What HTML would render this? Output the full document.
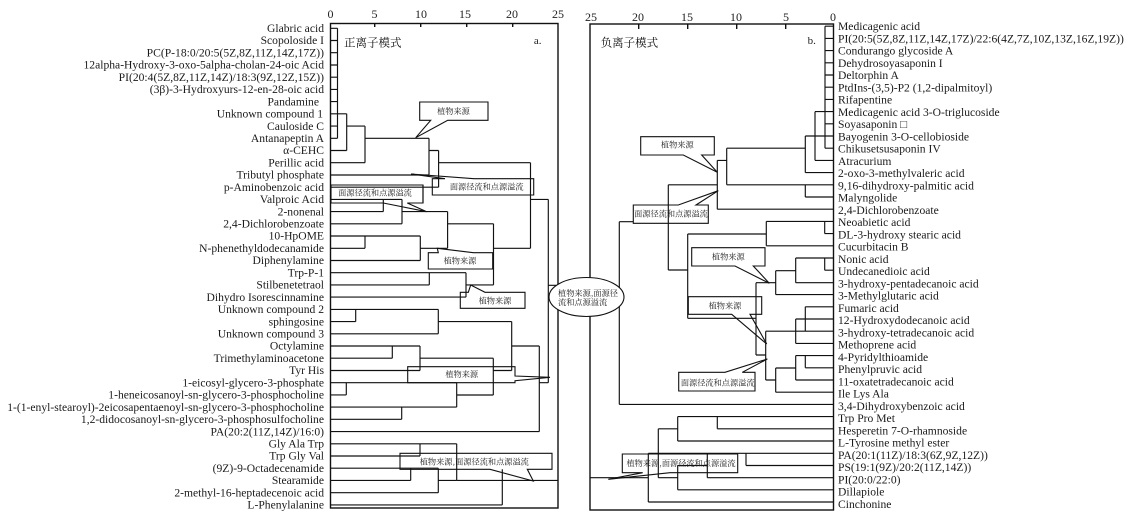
<!DOCTYPE html>
<html>
<head>
<meta charset="utf-8">
<style>
html,body{margin:0;padding:0;background:#fff;}
svg{display:block;}
.l{font:11.6px "Liberation Serif","Noto Serif CJK SC",serif;fill:#1a1a1a;}
.c{font:8.2px "Noto Serif CJK SC","Liberation Serif",serif;fill:#222;text-anchor:middle;}
.h{font:11.5px "Noto Serif CJK SC","Liberation Serif",serif;fill:#111;}
.a{font:12px "Liberation Serif",serif;fill:#222;text-anchor:middle;}
.lt text{text-anchor:end;}
</style>
</head>
<body>
<svg width="1131" height="519" viewBox="0 0 1131 519" xmlns="http://www.w3.org/2000/svg">
<rect width="1131" height="519" fill="#fff"/>
<g fill="none" stroke="#111" stroke-width="1.4">
<rect x="330.5" y="23.5" width="227.5" height="484.5"/>
<rect x="590" y="24" width="243.5" height="486"/>
<path d="M374.7 23V27M420.7 23V27M466.7 23V27M512.7 23V27M638.7 24V29M687.7 24V29M736.7 24V29M785.7 24V29"/>
</g>
<!-- callouts -->
<g fill="#fff" stroke="#111" stroke-width="1.1">
<path d="M419.7 102H488V120.3H447.7L415.7 137.7L430.7 120.3H419.7Z"/>
<path d="M432.3 178.7H445L411 174L474 178.7H533.7V195H432.3Z"/>
<path d="M331 185H423V203H407.3L426.7 211.7L383.3 203H331Z"/>
<path d="M428.3 252.7H438.3L437.3 248.3L473.3 252.7H492.7V269H428.3Z"/>
<path d="M460.3 292.3H468.3L470.7 285L485 292.3H525V308.3H460.3Z"/>
<path d="M407.7 366.7H515V376L550 377.3L515 380.7V382.7H407.7Z"/>
<path d="M400 453.3H552V469.3H527.3L533.3 481L490 469.3H400Z"/>
<path d="M640.7 136.7H714.3V155H701.7L717.3 172.3L683.3 155H640.7Z"/>
<path d="M633.3 205H678.3L718.3 190.7L696 205H708.3V223.3H633.3Z"/>
<path d="M691.7 247.7H765V266H753.3L769.3 283.3L735 266H691.7Z"/>
<path d="M688.3 296.7H761.7V314.3H750L766.7 344L731.7 314.3H688.3Z"/>
<path d="M678.7 372.3H725L767.3 359L742.3 372.3H755V391H678.7Z"/>
<path d="M622.3 454H737.7V472.7H670L608.3 479.3L642.7 472.7H622.3Z"/>
</g>
<!-- left dendrogram -->
<path fill="none" stroke="#111" stroke-width="1.15" d="
M330 28.3H337.5M330 40.5H337.5M330 52.7H337.5M330 65H337.5M330 77.2H337.5M330 89.4H337.5M330 101.6H337.5M330 126.1H337.5M330 138.3H337.5
M337.5 28.3V138.3
M330 113.8H346.7M330 150.5H346.7M346.7 113.8V150.5
M346.7 126.1H365M365 126.1V162.7M330 162.7H365
M365 138.3H429M429 138.3V175M330 175H429
M429 150.5H438.6M438.6 150.5V187.2M330 187.2H438.6
M438.6 162.7H530.5M530.5 162.7V248.3
M423 185V203
M330 199.4H402M402 199.4V223.8M330 223.8H402
M330 211.6H383.3M383.3 199.4V211.6
M402 211.6H447.6M447.6 211.6V248.3
M447.6 223.8H493.5M493.5 223.8V284.9
M493.5 248.3H530.5
M420.3 248.3H447.6M420.3 236V260.5
M330 236H420.3M330 248.3H365M365 236V248.3M330 260.5H420.3
M330 272.7H466M330 284.9H429.3M429.3 272.7V284.9M466 272.7V297.1M330 297.1H466M466 284.9H493.5
M330 309.4H438.3M330 321.6H355.7M355.7 309.4V321.6M438.3 309.4V333.8M330 333.8H438.3
M438.3 321.6H511.7M511.7 321.6V370.5
M330 346H420M330 358.2H392.3M392.3 346V358.2M420 346V370.5M330 370.5H420
M420 358.2H493.3M493.3 358.2V395M493.3 370.5H511.7
M456.7 395H493.3M456.7 382.7V407.1
M330 382.7H456.7M330 394.9H346.3M346.3 382.7V394.9
M330 407.1H456.7M330 419.3H401.7M401.7 407.1V419.3
M330 431.6H539.3M539.3 346V431.6M511.7 346H539.3
M530.5 199.4H548.3M548.3 199.4V382.7M539.3 382.7H548.3M548.3 285.3H556
M330 443.8H456.7M456.7 443.8V480.4M330 456H420M420 443.8V456
M330 468.2H438.3M330 480.4H410.7M410.7 468.2V480.4M438.3 468.2V492.7M330 492.7H438.3
M438.3 480.4H456.7M456.7 480.4H558
M502.3 469.3V504.9M330 504.9H502.3
"/>
<!-- right dendrogram -->
<path fill="none" stroke="#111" stroke-width="1.15" d="
M825 26.2H833M825 38.4H833M825 50.6H833M825 62.8H833M825 75H833M825 87.2H833M825 99.4H833M825 123.8H833M825 136H833M825 148.2H833
M825 26.2V148.2
M815 111.6H833M815 111.6V160.4M815 160.4H833
M805.3 136H825M805.3 136V172.6M805.3 172.6H833
M726.7 148.2H805.3M726.7 148.2V184.8M726.7 184.8H833
M717.3 160.4H726.7M717.3 160.4V209.2M717.3 209.2H833
M805.3 184.8V197M805.3 197H833
M668.3 184.8H717.3M668.3 184.8V270M668.3 270H687.7
M687.7 234H766.3M687.7 234V318.3
M766.3 221.4V245.8M766.3 221.4H833M766.3 245.8H833
M824.7 221.4V233.6M824.7 233.6H833
M687.7 318.3H756M756 282.7V355
M756 282.7H775.7M775.7 270.7V294.6M775.7 294.6H833
M775.7 270.7H795.7M795.7 258V282.7M795.7 282.7H833
M795.7 258H824.7M824.7 258V270.2M824.7 258H833M824.7 270.2H833
M805.3 306.8H833M805.3 306.8V331.2M805.3 331.2H833
M795.7 319H833M795.7 319V343.4M795.7 343.4H833
M765.7 331.2H805.3M765.7 331.2V380
M765.7 380H775.7M775.7 368V392.2M775.7 392.2H833
M775.7 368H795.7M795.7 355.6V380M795.7 380H833M795.7 355.6H833
M805.3 355.6V367.8M805.3 367.8H833
M756 355H765.7
M619.3 404.4H833M619.3 221.7V404.4M619.3 221.7H633.3
M677.7 416.6H833M717.3 416.6V428.8M717.3 428.8H833M677.7 441H833M677.7 416.6V441
M658.3 428.8H677.7M658.3 428.8V477.7M658.3 477.7H677.7
M677.7 465.5V489.8M677.7 489.8H833
M677.7 465.5H707.3M707.3 453.3V477.7M707.3 477.7H833
M648.3 453.3H833M746 453.3V465.5M746 465.5H833
M648.3 453.3V502M648.3 502H833
M590 477.7H648.3
"/>
<!-- axes -->
<g class="a">
<text x="330.5" y="18">0</text><text x="374.5" y="18">5</text><text x="421" y="18">10</text><text x="465" y="18">15</text><text x="512" y="18">20</text><text x="558" y="18">25</text>
<text x="591" y="21">25</text><text x="638" y="21">20</text><text x="687" y="21">15</text><text x="736" y="21">10</text><text x="786" y="21">5</text><text x="833" y="21">0</text>
</g>
<text class="h" x="344" y="46.5">正离子模式</text>
<text class="h" x="600.7" y="46.5">负离子模式</text>
<text class="a" x="537.7" y="44" style="font-size:11px">a.</text>
<text class="a" x="811.7" y="44" style="font-size:11px">b.</text>
<!-- callout text -->
<g class="c">
<text x="453.5" y="114">植物来源</text>
<text x="486.7" y="189.7">面源径流和点源溢流</text>
<text x="375" y="195.7">面源径流和点源溢流</text>
<text x="460" y="263.7">植物来源</text>
<text x="495" y="303.3">植物来源</text>
<text x="461.7" y="377">植物来源</text>
<text x="474.3" y="464.7">植物来源,面源径流和点源溢流</text>
<text x="677.3" y="147.7">植物来源</text>
<text x="671" y="216.3">面源径流和点源溢流</text>
<text x="728.3" y="259.7">植物来源</text>
<text x="725" y="308.7">植物来源</text>
<text x="717.7" y="385.7">面源径流和点源溢流</text>
<text x="681" y="466">植物来源,面源径流和点源溢流</text>
</g>
<ellipse cx="586.5" cy="297" rx="37.5" ry="19.5" fill="#fff" stroke="#111" stroke-width="1.1"/>
<text class="c" style="text-anchor:start" x="558" y="296">植物来源,面源径</text>
<text class="c" style="text-anchor:start" x="558" y="305">流和点源溢流</text>
<!-- left labels -->
<g class="l lt">
<text x="324" y="32">Glabric acid</text>
<text x="324" y="44.2">Scopoloside I</text>
<text x="324" y="56.4">PC(P-18:0/20:5(5Z,8Z,11Z,14Z,17Z))</text>
<text x="324" y="68.7">12alpha-Hydroxy-3-oxo-5alpha-cholan-24-oic Acid</text>
<text x="324" y="80.9">PI(20:4(5Z,8Z,11Z,14Z)/18:3(9Z,12Z,15Z))</text>
<text x="324" y="93.1">(3β)-3-Hydroxyurs-12-en-28-oic acid</text>
<text x="319" y="105.3">Pandamine</text>
<text x="323" y="117.5">Unknown compound 1</text>
<text x="324" y="129.8">Cauloside C</text>
<text x="324" y="142">Antanapeptin A</text>
<text x="324" y="154.2">α-CEHC</text>
<text x="324" y="166.4">Perillic acid</text>
<text x="324" y="178.7">Tributyl phosphate</text>
<text x="324" y="190.9">p-Aminobenzoic acid</text>
<text x="324" y="203.1">Valproic Acid</text>
<text x="324" y="215.3">2-nonenal</text>
<text x="324" y="227.5">2,4-Dichlorobenzoate</text>
<text x="324" y="239.7">10-HpOME</text>
<text x="324" y="252">N-phenethyldodecanamide</text>
<text x="324" y="264.2">Diphenylamine</text>
<text x="324" y="276.4">Trp-P-1</text>
<text x="324" y="288.6">Stilbenetetraol</text>
<text x="324" y="300.8">Dihydro Isorescinnamine</text>
<text x="324" y="313.1">Unknown compound 2</text>
<text x="324" y="325.3">sphingosine</text>
<text x="324" y="337.5">Unknown compound 3</text>
<text x="324" y="349.7">Octylamine</text>
<text x="324" y="361.9">Trimethylaminoacetone</text>
<text x="324" y="374.2">Tyr His</text>
<text x="324" y="386.4">1-eicosyl-glycero-3-phosphate</text>
<text x="324" y="398.6">1-heneicosanoyl-sn-glycero-3-phosphocholine</text>
<text x="324" y="410.8">1-(1-enyl-stearoyl)-2eicosapentaenoyl-sn-glycero-3-phosphocholine</text>
<text x="324" y="423">1,2-didocosanoyl-sn-glycero-3-phosphosulfocholine</text>
<text x="324" y="435.3">PA(20:2(11Z,14Z)/16:0)</text>
<text x="324" y="447.5">Gly Ala Trp</text>
<text x="324" y="459.7">Trp Gly Val</text>
<text x="324" y="471.9">(9Z)-9-Octadecenamide</text>
<text x="324" y="484.1">Stearamide</text>
<text x="324" y="496.4">2-methyl-16-heptadecenoic acid</text>
<text x="324" y="508.6">L-Phenylalanine</text>
</g>
<!-- right labels -->
<g class="l">
<text x="838" y="30.1">Medicagenic acid</text>
<text x="838" y="42.35">PI(20:5(5Z,8Z,11Z,14Z,17Z)/22:6(4Z,7Z,10Z,13Z,16Z,19Z))</text>
<text x="838" y="54.6">Condurango glycoside A</text>
<text x="838" y="66.85">Dehydrosoyasaponin I</text>
<text x="838" y="79.1">Deltorphin A</text>
<text x="838" y="91.35">PtdIns-(3,5)-P2 (1,2-dipalmitoyl)</text>
<text x="838" y="103.6">Rifapentine</text>
<text x="838" y="115.85">Medicagenic acid 3-O-triglucoside</text>
<text x="838" y="128.1">Soyasaponin □</text>
<text x="838" y="140.35">Bayogenin 3-O-cellobioside</text>
<text x="838" y="152.6">Chikusetsusaponin IV</text>
<text x="838" y="164.85">Atracurium</text>
<text x="838" y="177.1">2-oxo-3-methylvaleric acid</text>
<text x="838" y="189.35">9,16-dihydroxy-palmitic acid</text>
<text x="838" y="201.6">Malyngolide</text>
<text x="838" y="213.85">2,4-Dichlorobenzoate</text>
<text x="838" y="226.1">Neoabietic acid</text>
<text x="838" y="238.35">DL-3-hydroxy stearic acid</text>
<text x="838" y="250.6">Cucurbitacin B</text>
<text x="838" y="262.85">Nonic acid</text>
<text x="838" y="275.1">Undecanedioic acid</text>
<text x="838" y="287.35">3-hydroxy-pentadecanoic acid</text>
<text x="838" y="299.6">3-Methylglutaric acid</text>
<text x="838" y="311.85">Fumaric acid</text>
<text x="838" y="324.1">12-Hydroxydodecanoic acid</text>
<text x="838" y="336.35">3-hydroxy-tetradecanoic acid</text>
<text x="838" y="348.6">Methoprene acid</text>
<text x="838" y="360.85">4-Pyridylthioamide</text>
<text x="838" y="373.1">Phenylpruvic acid</text>
<text x="838" y="385.35">11-oxatetradecanoic acid</text>
<text x="838" y="397.6">Ile Lys Ala</text>
<text x="838" y="409.85">3,4-Dihydroxybenzoic acid</text>
<text x="838" y="422.1">Trp Pro Met</text>
<text x="838" y="434.35">Hesperetin 7-O-rhamnoside</text>
<text x="838" y="446.6">L-Tyrosine methyl ester</text>
<text x="838" y="458.85">PA(20:1(11Z)/18:3(6Z,9Z,12Z))</text>
<text x="838" y="471.1">PS(19:1(9Z)/20:2(11Z,14Z))</text>
<text x="838" y="483.35">PI(20:0/22:0)</text>
<text x="838" y="495.6">Dillapiole</text>
<text x="838" y="507.85">Cinchonine</text>
</g>
</svg>
</body>
</html>
